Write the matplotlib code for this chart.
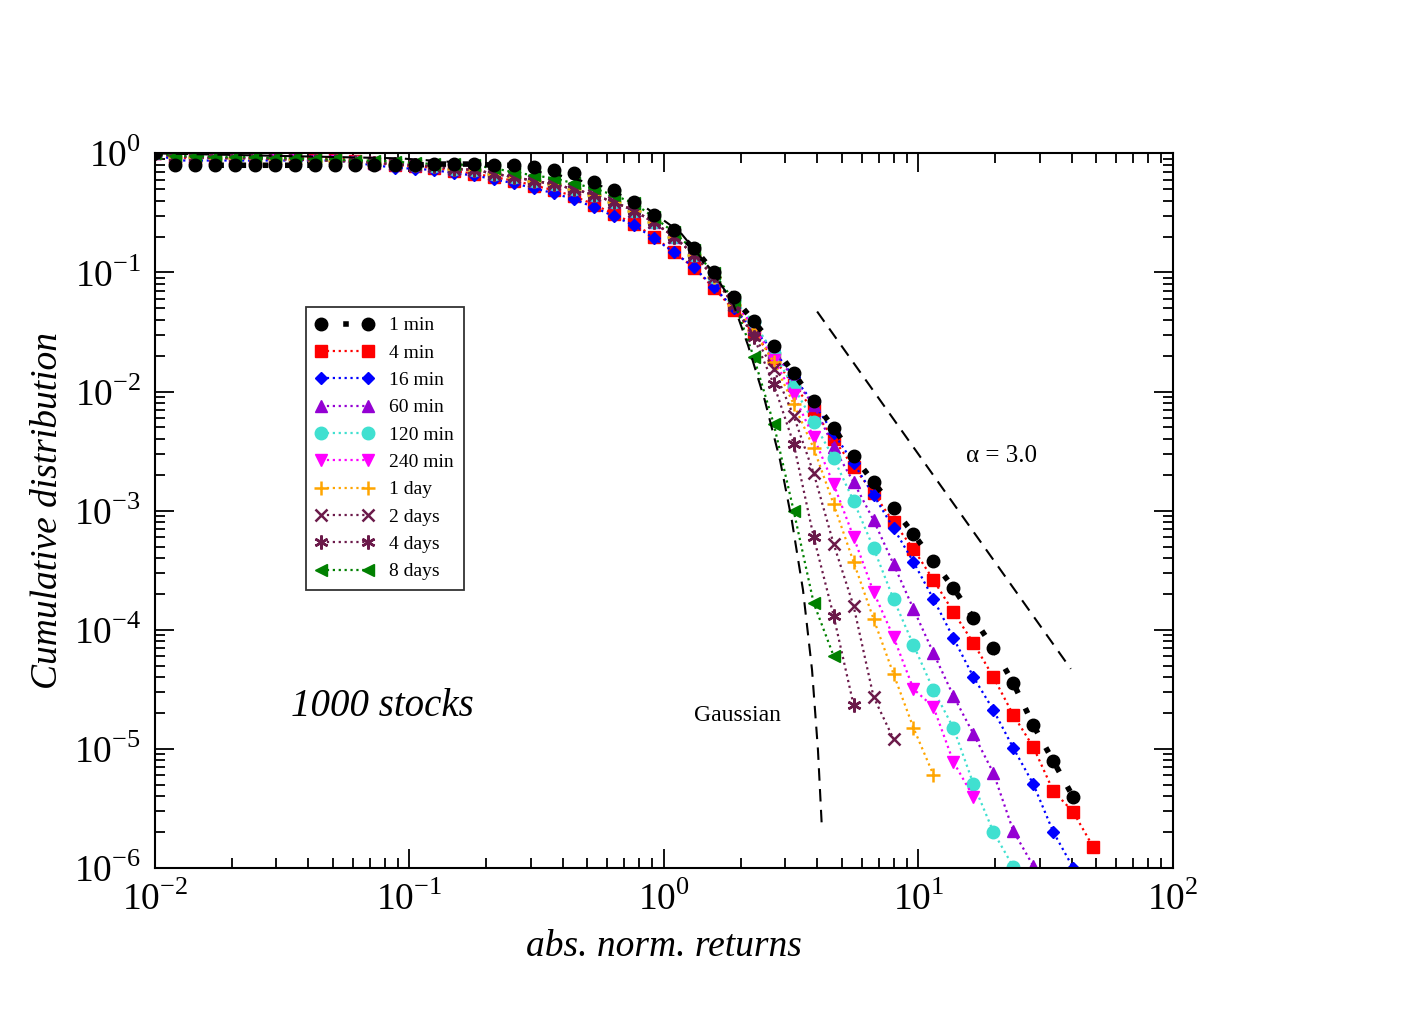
import numpy as np
import matplotlib
matplotlib.use("Agg")
import matplotlib.pyplot as plt
from matplotlib.ticker import LogLocator, NullFormatter

plt.rcParams['font.family'] = ['Liberation Serif', 'DejaVu Serif']
plt.rcParams['mathtext.fontset'] = 'custom'
plt.rcParams['mathtext.rm'] = 'Liberation Serif'

# bin centres (abs. normalized returns)
x = [0.0100, 0.0120, 0.0144, 0.0172, 0.0206, 0.0247, 0.0296, 0.0354, 0.0424, 0.0508,
     0.0609, 0.0729, 0.0874, 0.1047, 0.1254, 0.1502, 0.1799, 0.2155, 0.2582, 0.3093,
     0.3705, 0.4439, 0.5317, 0.6370, 0.7631, 0.9141, 1.095, 1.312, 1.572, 1.883,
     2.255, 2.702, 3.237, 3.877, 4.645, 5.564, 6.666, 7.985, 9.566, 11.46,
     13.73, 16.45, 19.70, 23.60, 28.27, 33.87, 40.57, 48.60]

# log10 of the cumulative distribution
head_green = [-0.02, -0.02, -0.03, -0.03, -0.03, -0.04, -0.04, -0.05, -0.05, -0.06, -0.06, -0.07, -0.08, -0.09,
              -0.092, -0.101, -0.126, -0.159, -0.185, -0.210, -0.252, -0.294, -0.352, -0.419, -0.537, -0.663, -0.814, -1.007]
head_mid = [-0.03, -0.03, -0.04, -0.04, -0.04, -0.05, -0.05, -0.06, -0.06, -0.07, -0.08, -0.09, -0.10, -0.11,
            -0.13, -0.14, -0.17, -0.20, -0.23, -0.26, -0.30, -0.35, -0.41, -0.48, -0.58, -0.70, -0.85, -1.04]

log_1min = [0] + [-0.10] * 13 + [-0.09] + [-0.09, -0.09, -0.10, -0.10, -0.117, -0.143, -0.168, -0.243, -0.310,
            -0.411, -0.52, -0.646, -0.797, -0.998,
            -1.208, -1.409, -1.619, -1.846, -2.081, -2.307, -2.542, -2.760, -2.978, -3.196, -3.423, -3.649,
            -3.901, -4.153, -4.446, -4.799, -5.101, -5.403]
log_4min = [0] + [-0.04] * 9 + [-0.06, -0.08, -0.10, -0.11, -0.12, -0.15, -0.17, -0.20, -0.23, -0.27, -0.31,
            -0.36, -0.43, -0.51, -0.59, -0.70, -0.83, -0.96, -1.13,
            -1.317, -1.51, -1.72, -1.946, -2.156, -2.399, -2.634, -2.852, -3.096, -3.322, -3.582, -3.851,
            -4.111, -4.396, -4.715, -4.983, -5.352, -5.529, -5.822]
log_16min = [0] + [-0.06] * 9 + [-0.08, -0.10, -0.12, -0.13, -0.14, -0.168, -0.185, -0.218, -0.252, -0.294,
             -0.336, -0.386, -0.453, -0.529, -0.604, -0.713, -0.831, -0.956, -1.124,
             -1.30, -1.485, -1.653, -1.879, -2.097, -2.349, -2.601, -2.869, -3.146, -3.431, -3.742, -4.069,
             -4.396, -4.673, -4.992, -5.294, -5.696, -5.998]
log_60min = [0] + head_mid + [-1.25, -1.451, -1.669, -1.888, -2.114, -2.466, -2.760, -3.079, -3.448, -3.826,
                              -4.195, -4.555, -4.874, -5.201, -5.688, -5.982]
log_120min = [0] + head_mid + [-1.233, -1.418, -1.678, -1.963, -2.257, -2.559, -2.919, -3.314, -3.742, -4.128,
                               -4.505, -4.824, -5.294, -5.696, -5.990]
log_240min = [0] + head_mid + [-1.258, -1.451, -1.737, -2.030, -2.383, -2.777, -3.221, -3.683, -4.060, -4.497,
                               -4.648, -5.109, -5.403]
log_1day = [0] + head_mid + [-1.275, -1.485, -1.753, -2.106, -2.475, -2.945, -3.431, -3.909, -4.371, -4.824, -5.218]
log_2days = [0] + head_mid + [-1.275, -1.527, -1.812, -2.206, -2.685, -3.280, -3.800, -4.564, -4.916]
log_4days = [0] + head_mid[:-1] + [-1.02, -1.275, -1.544, -1.938, -2.441, -3.221, -3.884, -4.631]
log_8days = [0] + head_green + [-1.233, -1.711, -2.273, -3.003, -3.775, -4.220]

labels = ["1 min", "4 min", "16 min", "60 min", "120 min", "240 min", "1 day", "2 days", "4 days", "8 days"]
series = [log_1min, log_4min, log_16min, log_60min, log_120min, log_240min, log_1day, log_2days, log_4days, log_8days]
colors = ["black", "red", "blue", "#9400d3", "#40e0d0", "magenta", "orange", "#6b1a4a", "#6b1a4a", "green"]
markers = ["o", "s", "D", "^", "o", "v", "+", "x", (6, 2, 0), "<"]
msizes = [9, 8, 6.5, 9, 9, 9, 10, 8, 10, 9]

# gaussian reference curve
gauss_x = [0.01, 0.0918, 0.227, 0.390, 0.561, 0.805, 1.156, 1.56, 1.87, 2.14, 2.49, 2.86, 3.18, 3.52, 3.82, 4.03, 4.18]
gauss_log = [0, -0.042, -0.101, -0.185, -0.27, -0.42, -0.66, -0.998, -1.258, -1.611, -2.072, -2.576, -3.079,
             -3.666, -4.337, -5.008, -5.680]
# power law alpha = 3 guide line
alpha_x = [4.0, 39.7]
alpha_y = [0.047, 4.7e-5]

xticks = [1e-2, 1e-1, 1e0, 1e1, 1e2]
xtick_labels = ["10$^{-2}$", "10$^{-1}$", "10$^{0}$", "10$^{1}$", "10$^{2}$"]
yticks = [1e-6, 1e-5, 1e-4, 1e-3, 1e-2, 1e-1, 1e0]
ytick_labels = ["10$^{-6}$", "10$^{-5}$", "10$^{-4}$", "10$^{-3}$", "10$^{-2}$", "10$^{-1}$", "10$^{0}$"]

fig = plt.figure(figsize=(14.06, 10.21), dpi=100)
ax = fig.add_axes([0.1102, 0.1498, 0.724, 0.700])

for lab, s, c, m, ms in zip(labels, series, colors, markers, msizes):
    xs = x[:len(s)]
    ys = 10.0 ** np.array(s)
    if lab == "1 min":
        ax.plot(xs, ys, color=c, ls=(0, (1, 3)), lw=4, marker=m, ms=ms, label=lab, zorder=3)
    else:
        mew = 1.8 if m in ("+", "x", (6, 2, 0)) else 1
        ax.plot(xs, ys, color=c, ls=":", lw=1.6, marker=m, ms=ms, mew=mew, label=lab)

ax.plot(gauss_x, 10.0 ** np.array(gauss_log), 'k--', lw=1.5, dashes=(6, 4))
ax.plot(alpha_x, alpha_y, 'k--', lw=1.5, dashes=(6, 4))

ax.text(21.3, 10 ** -2.54, "α = 3.0", fontsize=18, ha="center", va="center")
ax.text(1.94, 10 ** -4.72, "Gaussian", fontsize=17, ha="center", va="center")
ax.text(0.078, 10 ** -4.64, "1000 stocks", fontsize=28, style="italic", ha="center", va="center")

ax.set_xscale("log")
ax.set_yscale("log")
ax.set_xlim(1e-2, 1e2)
ax.set_ylim(1e-6, 1.0)
ax.set_xticks(xticks)
ax.set_xticklabels(xtick_labels)
ax.set_yticks(yticks)
ax.set_yticklabels(ytick_labels)
ax.set_xlabel("abs. norm. returns", fontsize=27, style="italic", labelpad=8)
ax.set_ylabel("Cumulative distribution", fontsize=27, style="italic", labelpad=6)
ax.xaxis.set_minor_locator(LogLocator(base=10, subs=np.arange(2, 10), numticks=20))
ax.xaxis.set_minor_formatter(NullFormatter())
ax.yaxis.set_minor_locator(LogLocator(base=10, subs=np.arange(2, 10), numticks=20))
ax.yaxis.set_minor_formatter(NullFormatter())
ax.tick_params(which="both", direction="in", top=True, right=True, labelsize=27, width=1.3)
ax.tick_params(which="major", length=14, pad=10)
ax.tick_params(which="minor", length=7)
for sp in ax.spines.values():
    sp.set_linewidth(1.5)

leg = ax.legend(loc="upper left", bbox_to_anchor=(0.148, 0.785), fontsize=14, frameon=True, fancybox=False,
                edgecolor="black", handlelength=3.0, labelspacing=0.5, borderpad=0.5, handletextpad=0.8,
                numpoints=2, borderaxespad=0)
leg.get_frame().set_linewidth(1.3)

fig.savefig("out.png", dpi=100)
